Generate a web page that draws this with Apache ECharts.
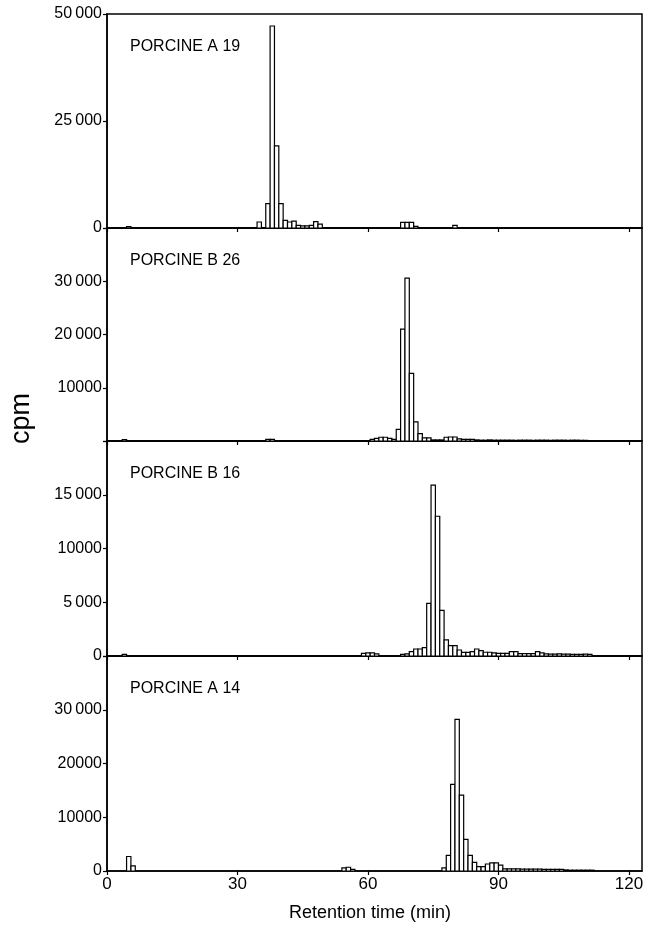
<!DOCTYPE html>
<html>
<head>
<meta charset="utf-8">
<script src="https://cdn.jsdelivr.net/npm/echarts@6/dist/echarts.min.js"></script>
<style>
html,body{margin:0;padding:0;background:#fff;}
#chart{width:649px;height:932px;}
</style>
</head>
<body>
<div id="chart"></div>
<script>
// ---- Data (bin start in min, cpm per 1-min fraction) ----
const panelNames = ['PORCINE A 19', 'PORCINE B 26', 'PORCINE B 16', 'PORCINE A 14'];

const a19Times = [4.5, 34.5, 36.5, 37.5, 38.5, 39.5, 40.5, 41.5, 42.5, 43.5, 44.5, 45.5, 46.5, 47.5, 48.5, 67.5, 68.5, 69.5, 70.5, 79.5];
const a19Cpm   = [300, 1400, 5700, 47200, 19200, 5700, 1800, 1400, 1600, 600, 500, 500, 600, 1500, 900, 1300, 1300, 1300, 400, 600];

const b26Times = [3.5, 36.5, 37.5, 60.5, 61.5, 62.5, 63.5, 64.5, 65.5, 66.5, 67.5, 68.5, 69.5, 70.5, 71.5, 72.5, 73.5, 74.5, 75.5, 76.5, 77.5, 78.5, 79.5, 80.5, 81.5, 82.5, 83.5,
                  84.5, 85.5, 86.5, 87.5, 88.5, 89.5, 90.5, 91.5, 92.5, 93.5, 94.5, 95.5, 96.5, 97.5, 98.5, 99.5, 100.5, 101.5, 102.5, 103.5, 104.5, 105.5, 106.5, 107.5, 108.5, 109.5];
const b26Cpm   = [250, 300, 300, 300, 500, 700, 700, 500, 300, 2200, 21000, 30600, 12700, 3600, 1400, 600, 600, 200, 200, 200, 700, 750, 750, 400, 300, 300, 300,
                  200, 150, 150, 200, 150, 150, 150, 150, 150, 120, 150, 150, 150, 120, 150, 150, 150, 120, 150, 150, 150, 120, 150, 150, 120, 120];

const b16Times = [3.5, 58.5, 59.5, 60.5, 61.5, 67.5, 68.5, 69.5, 70.5, 71.5, 72.5, 73.5, 74.5, 75.5, 76.5, 77.5, 78.5, 79.5, 80.5, 81.5, 82.5, 83.5, 84.5, 85.5, 86.5, 87.5, 88.5,
                  89.5, 90.5, 91.5, 92.5, 93.5, 94.5, 95.5, 96.5, 97.5, 98.5, 99.5, 100.5, 101.5, 102.5, 103.5, 104.5, 105.5, 106.5, 107.5, 108.5, 109.5, 110.5];
const b16Cpm   = [150, 250, 300, 300, 200, 150, 200, 400, 650, 650, 780, 4900, 15900, 13000, 4250, 1500, 970, 970, 560, 340, 340, 400, 650, 500, 350, 350, 300,
                  250, 250, 250, 400, 400, 220, 220, 220, 220, 400, 300, 200, 180, 180, 200, 180, 180, 160, 160, 160, 180, 160];

const a14Times = [4.5, 5.5, 54, 55, 56, 77, 78, 79, 80, 81, 82, 83, 84, 85, 86, 87, 88, 89, 90,
                  91, 92, 93, 94, 95, 96, 97, 98, 99, 100, 101, 102, 103, 104, 105, 106, 107, 108, 109, 110, 111];
const a14Cpm   = [2700, 950, 600, 700, 300, 600, 2900, 16100, 28200, 14100, 5900, 2900, 1600, 800, 800, 1300, 1500, 1500, 1100,
                  400, 400, 400, 400, 350, 350, 350, 350, 350, 300, 300, 300, 300, 300, 200, 150, 150, 150, 150, 150, 150];

const yMax = [50000, 40000, 20000, 40000];
const yStep = [25000, 10000, 5000, 10000];
const yTickLabels = [
  {0: '0', 25000: '25\u2009000', 50000: '50\u2009000'},
  {10000: '10000', 20000: '20\u2009000', 30000: '30\u2009000'},
  {0: '0', 5000: '5\u2009000', 10000: '10000', 15000: '15\u2009000'},
  {0: '0', 10000: '10000', 20000: '20000', 30000: '30\u2009000'}
];
const xTickValues = [0, 30, 60, 90, 120];
const xTickLabels = ['0', '30', '60', '90', '120'];
const xMax = 123;
const binWidth = 1;

// ---- Chart ----
const FONT = 'Liberation Sans';
const panelData = [[a19Times, a19Cpm], [b26Times, b26Cpm], [b16Times, b16Cpm], [a14Times, a14Cpm]];
const gridTops = [14, 228, 441, 656];
const gridHeights = [214, 213, 215, 215];

const grids = [], xAxes = [], yAxes = [], series = [], titles = [];
panelData.forEach((pd, i) => {
  grids.push({left: 107, right: 7, top: gridTops[i], height: gridHeights[i], show: true,
              borderColor: '#000', borderWidth: 1.5, backgroundColor: 'transparent'});
  xAxes.push({
    type: 'value', gridIndex: i, min: 0, max: xMax, interval: 30,
    axisLine: {show: true, lineStyle: {color: '#000', width: 1.5}},
    axisTick: {show: true, inside: false, length: 4, lineStyle: {color: '#000', width: 1.2},
               customValues: xTickValues},
    axisLabel: {show: i === 3, color: '#000', fontFamily: FONT, fontSize: 17, margin: 5,
                customValues: xTickValues,
                formatter: v => { const k = xTickValues.indexOf(v); return k >= 0 ? xTickLabels[k] : ''; }},
    splitLine: {show: false}
  });
  const labels = yTickLabels[i];
  yAxes.push({
    type: 'value', gridIndex: i, min: 0, max: yMax[i], interval: yStep[i],
    axisLine: {show: true, lineStyle: {color: '#000', width: 1.5}},
    axisTick: {show: true, inside: false, length: 4, lineStyle: {color: '#000', width: 1.2}},
    axisLabel: {color: '#000', fontFamily: FONT, fontSize: 16, margin: 5,
                formatter: v => labels[v] !== undefined ? labels[v] : ''},
    splitLine: {show: false}
  });
  const data = pd[0].map((t, k) => [t, pd[1][k]]);
  series.push({
    type: 'custom', xAxisIndex: i, yAxisIndex: i, data: data, clip: true,
    encode: {x: 0, y: 1},
    renderItem: function (params, api) {
      const t = api.value(0), v = api.value(1);
      const p0 = api.coord([t, 0]);
      const p1 = api.coord([t + binWidth, v]);
      return {type: 'rect',
              shape: {x: p0[0], y: p1[1], width: p1[0] - p0[0], height: p0[1] - p1[1]},
              style: {fill: '#fff', stroke: '#000', lineWidth: 1.2}};
    }
  });
  titles.push({text: panelNames[i], left: 125, top: gridTops[i] + 20,
               textStyle: {fontFamily: FONT, fontSize: 16, fontWeight: 'normal', color: '#000'}});
});

const chart = echarts.init(document.getElementById('chart'), null, {renderer: 'canvas'});
chart.setOption({
  animation: false,
  backgroundColor: '#fff',
  title: titles,
  grid: grids,
  xAxis: xAxes,
  yAxis: yAxes,
  series: series,
  graphic: [
    {type: 'text', left: 8, top: 393, rotation: Math.PI / 2,
     style: {text: 'cpm', fontFamily: FONT, fontSize: 27, fill: '#000'}},
    {type: 'text', x: 370, y: 913,
     style: {text: 'Retention time (min)', fontFamily: FONT, fontSize: 18, fill: '#000',
             align: 'center', verticalAlign: 'middle'}}
  ]
});
</script>
</body>
</html>
